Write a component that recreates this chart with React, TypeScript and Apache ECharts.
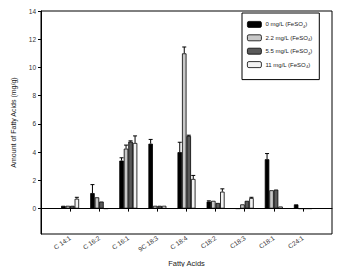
import React, { useEffect, useRef } from "react";
import * as echarts from "echarts";

const categories = ["", "C 14:1", "C 16:2", "C 16:1", "9C 18:3", "C 18:4", "C18:2", "C18:3", "C18:1", "C24:1", ""];
const seriesNames = ["0 mg/L (FeSO4)", "2.2 mg/L (FeSO4)", "5.5 mg/L (FeSO4)", "11 mg/L (FeSO4)"];
const conc0 = [null, 0.2, 1.1, 3.4, 4.6, 4.0, 0.5, 0, 3.5, 0.3, null];
const conc22 = [null, 0.2, 0.8, 4.25, 0.2, 11.0, 0.55, 0.3, 1.3, 0, null];
const conc55 = [null, 0.2, 0.5, 4.75, 0.2, 5.15, 0.4, 0.55, 1.35, 0, null];
const conc11 = [null, 0.7, 0, 4.65, 0.2, 2.1, 1.2, 0.75, 0.15, 0, null];
const errTop0 = [null, null, 1.7, 3.6, 4.9, 4.7, 0.55, null, 3.9, null, null];
const errTop22 = [null, null, null, 4.5, null, 11.45, null, null, null, null, null];
const errTop55 = [null, null, null, 4.8, null, 5.2, null, null, null, null, null];
const errTop11 = [null, 0.8, null, 5.15, null, 2.35, 1.4, 0.8, null, null, null];
const yTicks = [0, 2, 4, 6, 8, 10, 12, 14];

const colors = ["#000000", "#c8c8c8", "#5a5a5a", "#f2f2f2"];
const values = [conc0, conc22, conc55, conc11];
const errs = [errTop0, errTop22, errTop55, errTop11];
const BAR_W = 4.5;

export default function App() {
  const ref = useRef<HTMLDivElement>(null);
  useEffect(() => {
    const chart = echarts.init(ref.current!, null, { renderer: "svg" });
    const errData: any[] = [];
    errs.forEach((arr, s) => {
      arr.forEach((top, i) => {
        if (top != null) errData.push([i, values[s][i] as number, top, s]);
      });
    });
    const barSeries: any[] = values.map((arr, s) => ({
      type: "bar",
      name: seriesNames[s],
      data: arr,
      barWidth: BAR_W,
      barGap: "0%",
      itemStyle: { color: colors[s], borderColor: "#000", borderWidth: 0.8 },
      ...(s === 0
        ? {
            markLine: {
              silent: true,
              symbol: "none",
              label: { show: false },
              lineStyle: { color: "#000", type: "solid", width: 1 },
              data: [{ yAxis: 0 }],
            },
          }
        : {}),
    }));
    chart.setOption({
      animation: false,
      textStyle: { fontFamily: "Liberation Sans, Arial, sans-serif" },
      grid: {
        left: 41,
        right: 15,
        top: 11,
        bottom: 41,
        show: true,
        borderColor: "#000",
        borderWidth: 1,
        containLabel: false,
      },
      legend: {
        orient: "vertical",
        left: 242,
        top: 13,
        itemWidth: 14,
        itemHeight: 6,
        itemGap: 6,
        padding: [8, 7, 11, 5],
        borderColor: "#000",
        borderWidth: 1,
        backgroundColor: "#fff",
        data: seriesNames.map((n, i) => ({
          name: n,
          itemStyle: { color: colors[i], borderColor: "#000", borderWidth: 0.8 },
        })),
        formatter: (name: string) => name.replace("FeSO4", "FeSO{sub|4}"),
        textStyle: {
          fontSize: 6,
          color: "#222",
          padding: [0, 0, 0, -1],
          rich: { sub: { fontSize: 4, verticalAlign: "bottom", padding: [4, 0, 0, 0] } },
        },
      },
      xAxis: {
        type: "category",
        data: categories,
        boundaryGap: false,
        name: "Fatty Acids",
        nameLocation: "middle",
        nameGap: 23,
        nameTextStyle: { fontSize: 7.5, color: "#222" },
        axisLine: { lineStyle: { color: "#000", width: 1 } },
        axisTick: {
          length: 3,
          interval: (i: number) => i > 0 && i < categories.length - 1,
          lineStyle: { color: "#000" },
        },
        axisLabel: { interval: 0, rotate: 35, fontSize: 6.5, color: "#333", margin: 3 },
        splitLine: { show: false },
      },
      yAxis: {
        type: "value",
        min: -1.8,
        max: 14,
        name: "Amount of Fatty Acids (mg/g)",
        nameLocation: "middle",
        nameGap: 24,
        nameTextStyle: { fontSize: 7, color: "#222" },
        axisLine: { show: true, lineStyle: { color: "#000", width: 1 } },
        axisTick: { show: true, length: 3, customValues: yTicks, lineStyle: { color: "#000" } },
        axisLabel: { customValues: yTicks, fontSize: 6.5, color: "#333", margin: 5 },
        splitLine: { show: false },
      },
      series: [
        ...barSeries,
        {
          type: "custom",
          name: "err",
          z: 5,
          data: errData,
          renderItem: (params: any, api: any) => {
            const idx = api.value(0);
            const s = api.value(3);
            const off = (s - 1.5) * BAR_W;
            const p0 = api.coord([idx, api.value(1)]);
            const p1 = api.coord([idx, api.value(2)]);
            const x = p0[0] + off;
            const style = { stroke: "#000", lineWidth: 1 };
            return {
              type: "group",
              children: [
                { type: "line", shape: { x1: x, y1: p0[1], x2: x, y2: p1[1] }, style },
                { type: "line", shape: { x1: x - 2, y1: p1[1], x2: x + 2, y2: p1[1] }, style },
              ],
            };
          },
        },
      ],
    });
    return () => chart.dispose();
  }, []);
  return <div ref={ref} style={{ width: 347, height: 275, margin: -8 }} />;
}
